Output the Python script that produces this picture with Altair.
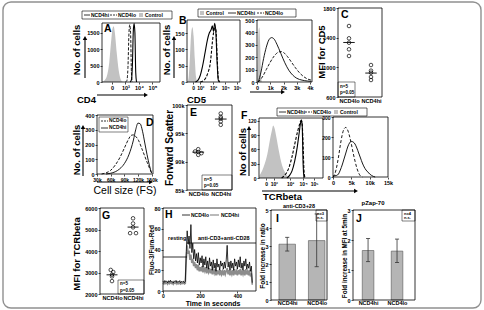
import json
import altair as alt
import pandas as pd

W, H = 484, 310
FONT = "Liberation Sans"
CTRL = "#c2c2c2"
HI_GRAY = "#8c8c8c"
BAR = "#b5b5b5"
DASH = [3, 1.6]

# ---------------- data ----------------
# A: CD4 histograms (x in decade units of the biexponential display)
A_ticks = [0, 1, 2, 3]
A_tick_labels = ["0", "10³", "10⁴", "10⁵"]
A_ctrl_x = [-0.7, -0.6, -0.4, -0.2, -0.05, 0.05, 0.12, 0.2, 0.35, 0.5, 0.65, 0.8, 1.0]
A_ctrl_y = [0, 30, 150, 600, 1300, 1650, 1700, 1550, 900, 350, 80, 10, 0]
A_lo_x = [1.0, 1.1, 1.18, 1.26, 1.32, 1.38, 1.44, 1.5]
A_lo_y = [0, 40, 400, 1500, 1750, 1500, 300, 0]
A_hi_x = [1.35, 1.45, 1.52, 1.58, 1.64, 1.7, 1.76, 1.82]
A_hi_y = [0, 80, 600, 1550, 1780, 1500, 300, 0]

# B: CD5, log display (left) and linear display (right)
B1_ticks = [0, 0.6, 1.67, 2.67, 3.67]
B1_tick_labels = ["0", "10²", "10³", "10⁴", "10⁵"]
B1_ctrl_x = [-0.45, -0.35, -0.25, -0.15, -0.05, 0.05, 0.15, 0.25, 0.35]
B1_ctrl_y = [0, 20, 80, 150, 168, 140, 70, 15, 0]
B1_hi_x = [0.2, 0.4, 0.6, 0.8, 1.0, 1.2, 1.35, 1.5, 1.6, 1.7, 1.8, 1.9, 2.0, 2.1, 2.2]
B1_hi_y = [0, 5, 20, 50, 90, 130, 150, 160, 172, 155, 180, 150, 60, 5, 0]
B1_lo_x = [0.6, 0.9, 1.1, 1.25, 1.4, 1.5, 1.6, 1.7, 1.8, 1.9, 2.0, 2.1, 2.2]
B1_lo_y = [0, 5, 15, 30, 50, 80, 120, 150, 165, 160, 80, 10, 0]
B2_ctrl_x = [0, 60, 120, 180, 240, 300, 360]
B2_ctrl_y = [0, 200, 420, 440, 300, 80, 0]
B2_hi_x = [100, 300, 500, 700, 900, 1100, 1300, 1500, 1800, 2100, 2400, 2700, 3000, 3400, 3800, 4100]
B2_hi_y = [0, 80, 190, 280, 340, 358, 345, 305, 230, 155, 95, 55, 30, 15, 8, 5]
B2_lo_x = [100, 400, 700, 1000, 1300, 1600, 1800, 2000, 2300, 2600, 2900, 3200, 3500, 3800, 4100]
B2_lo_y = [0, 40, 100, 160, 210, 240, 245, 238, 205, 160, 115, 75, 45, 25, 15]

# C: MFI for CD5 (group 1 = NCD4lo, 2 = NCD4hi)
C_group = [1, 1, 1, 1, 1, 2, 2, 2, 2, 2]
C_xpos = [1, 1, 1, 1, 1, 2, 2, 2, 2, 2]
C_mfi = [1557, 1391, 1332, 1243, 1153, 1031, 955, 928, 870, 829]

# D: cell size (forward scatter) histograms
D_hi_x = [50e3, 60e3, 70e3, 80e3, 90e3, 100e3, 110e3, 115e3, 120e3, 125e3, 130e3, 135e3, 140e3, 145e3, 150e3]
D_hi_y = [0, 5, 15, 35, 70, 130, 230, 300, 345, 340, 290, 210, 130, 60, 5]
D_lo_x = [40e3, 50e3, 60e3, 70e3, 80e3, 90e3, 100e3, 105e3, 110e3, 115e3, 120e3, 130e3, 140e3, 150e3]
D_lo_y = [0, 8, 25, 60, 110, 175, 240, 262, 265, 255, 235, 160, 80, 5]

# E: forward scatter per mouse
E_group = [1, 1, 1, 1, 1, 2, 2, 2, 2, 2]
E_xpos = [1.0, 0.86, 1.0, 1.14, 1.0, 2.0, 2.0, 2.0, 2.0, 2.0]
E_fs = [92200, 91800, 91700, 91500, 91200, 98500, 97900, 97600, 97100, 96500]

# F: TCRbeta, log display (left) and linear display (right)
F1_ticks = [0, 0.6, 1.85, 2.85, 3.7]
F1_tick_labels = ["0", "10²", "10³", "10⁴", "10⁵"]
F1_ctrl_x = [-0.5, -0.3, -0.1, 0.1, 0.3, 0.45, 0.55, 0.65, 0.8, 1.0, 1.2, 1.4, 1.6, 1.85]
F1_ctrl_y = [5, 15, 30, 50, 80, 100, 110, 105, 85, 55, 30, 15, 5, 0]
F1_hi_x = [1.6, 1.8, 2.0, 2.2, 2.4, 2.55, 2.65, 2.72, 2.78, 2.85, 2.92]
F1_hi_y = [0, 5, 15, 35, 65, 95, 115, 122, 110, 30, 0]
F1_lo_x = [1.2, 1.4, 1.6, 1.8, 2.0, 2.2, 2.4, 2.55, 2.68, 2.76, 2.84, 2.92, 3.0]
F1_lo_y = [0, 5, 12, 25, 45, 70, 95, 110, 120, 118, 80, 15, 0]
F2_lo_x = [0, 500, 1000, 1500, 2000, 2500, 3000, 3500, 4000, 4500, 5000, 5500, 6000, 6500, 7000, 7500, 8000]
F2_lo_y = [0, 15, 50, 100, 160, 210, 240, 248, 235, 205, 165, 120, 80, 45, 20, 5, 0]
F2_hi_x = [0, 1000, 1500, 2000, 2500, 3000, 3500, 4000, 4500, 5000, 5500, 6000, 6500, 7000,
           7500, 8000, 8500, 9000, 9500, 10000, 10500, 11000, 11500]
F2_hi_y = [5, 8, 15, 35, 60, 90, 120, 150, 170, 178, 175, 165, 145, 120, 95, 70, 50, 35, 25, 15, 8, 3, 0]

# G: MFI for TCRbeta
G_group = [1, 1, 1, 1, 1, 2, 2, 2, 2, 2]
G_xpos = [0.94, 1.06, 1.0, 1.0, 1.0, 2.0, 2.0, 2.0, 1.86, 2.14]
G_mfi = [3120, 3020, 2900, 2820, 2600, 5520, 5280, 5100, 4830, 4830]

# H: calcium flux ratio, sampled every 5 s
H_time = list(range(0, 485, 5))
H_lo = [9.5, 8.2, 10.1, 8.8, 9.6, 7.9, 9.9, 8.5, 10.4, 8.7, 9.2, 7.6, 9.8, 8.9, 10.2, 8.1, 9.4,
        8.6, 10.0, 7.8, 9.3, 8.4, 9.7, 8.0, 9.1,
        38, 58, 45, 53, 41, 64, 37, 46, 31, 40, 29, 36, 27, 37, 25, 32, 27, 34, 23, 31,
        25, 33, 22, 29, 21, 32, 24, 28, 20, 30, 22, 27, 19, 31, 23, 26, 20, 29, 24, 27,
        21, 28, 22, 30, 44, 23, 28, 20, 29, 22, 27, 20, 31, 24, 28, 21, 30, 23, 33, 22,
        27, 20, 29, 24, 31, 21, 26, 22, 28, 19, 24, 8]
H_hi = [7.8, 6.9, 8.4, 7.2, 8.0, 6.6, 8.3, 7.1, 8.6, 7.3, 7.7, 6.5, 8.1, 7.4, 8.5, 6.8, 7.9,
        7.0, 8.2, 6.7, 7.6, 7.2, 8.0, 6.9, 7.5,
        30, 44, 36, 39, 30, 35, 27, 31, 24, 28, 22, 26, 20, 25, 19, 23, 19, 24, 18, 22,
        19, 23, 17, 21, 18, 22, 17, 21, 16, 20, 17, 21, 15, 20, 17, 19, 15, 20, 16, 19,
        15, 20, 16, 19, 22, 16, 20, 15, 19, 16, 20, 15, 21, 16, 19, 15, 20, 16, 21, 15,
        19, 16, 20, 15, 21, 16, 19, 15, 20, 14, 17, 6]

# I / J: fold increases (mean with error range), group 1 = NCD4hi, 2 = NCD4lo
I_group = [1, 2]
I_fold = [3.1, 3.3]
I_low = [2.72, 1.85]
I_high = [3.48, 4.78]
J_group = [1, 2]
J_fold = [1.65, 1.63]
J_low = [1.28, 1.25]
J_high = [2.05, 2.03]


# ---------------- helpers ----------------
def one():
    return pd.DataFrame({"k": [0]})


def box(x0, x1, y0, y1, sw=0.8, color="black", radius=0):
    props = dict(filled=False, stroke=color, strokeWidth=sw)
    if radius:
        props["cornerRadius"] = radius
    return alt.Chart(one()).mark_rect(**props).encode(
        x=alt.value(x0), x2=alt.value(x1), y=alt.value(y0), y2=alt.value(y1))


def seg(x0, y0, x1, y1, color="black", sw=0.8, dash=None):
    props = dict(color=color, strokeWidth=sw)
    if dash:
        props["strokeDash"] = dash
    return alt.Chart(one()).mark_rule(**props).encode(
        x=alt.value(x0), y=alt.value(y0), x2=alt.value(x1), y2=alt.value(y1))


def label(s, x, y, size=5.5, align="left", baseline="middle", angle=0, weight="bold"):
    props = dict(text=s, font=FONT, fontSize=size, fontWeight=weight, align=align,
                 baseline=baseline, color="black")
    if angle:
        props["angle"] = angle
    return alt.Chart(one()).mark_text(**props).encode(x=alt.value(x), y=alt.value(y))


def arrow(x0, y0, x1, y1, sw=1.1):
    shape = "triangle-right" if y0 == y1 else "triangle-up"
    head = alt.Chart(one()).mark_point(shape=shape, filled=True, color="black", size=20,
                                       opacity=1).encode(x=alt.value(x1), y=alt.value(y1))
    return [seg(x0, y0, x1, y1, sw=sw), head]


def key_square(x, y, s=5):
    return alt.Chart(one()).mark_rect(color=CTRL).encode(
        x=alt.value(x), x2=alt.value(x + s), y=alt.value(y - s / 2), y2=alt.value(y + s / 2))


def lab_expr(values, labels):
    return "{}[indexof({}, datum.value)]".format(
        json.dumps(labels, ensure_ascii=False), json.dumps(values))


AXIS_STYLE = dict(title=None, grid=False, domain=False, tickColor="black", tickWidth=0.7,
                  labelFont=FONT, labelFontWeight="bold", labelColor="black",
                  labelOverlap=False, labelFlush=False, labelBound=False)


def xax(bottom, values, labels, size=5.5, tick=2, pad=1):
    return alt.Axis(orient="bottom", offset=bottom - H, values=values,
                    labelExpr=lab_expr(values, labels), ticks=tick > 0, tickSize=tick,
                    labelFontSize=size, labelPadding=pad, **AXIS_STYLE)


def yax(left, values, labels, size=5.5, tick=2, pad=1):
    return alt.Axis(orient="left", offset=-left, values=values,
                    labelExpr=lab_expr(values, labels), ticks=True, tickSize=tick,
                    labelFontSize=size, labelPadding=pad, **AXIS_STYLE)


class Panel:
    def __init__(self, xdom, xpx, ydom, ypx, xaxis, yaxis):
        self.sx = alt.Scale(domain=xdom, range=xpx, nice=False, zero=False)
        self.sy = alt.Scale(domain=ydom, range=ypx, nice=False, zero=False)
        self.ax, self.ay = xaxis, yaxis

    def X(self, f="x"):
        return alt.X(f"{f}:Q", scale=self.sx, axis=self.ax)

    def Y(self, f="y"):
        return alt.Y(f"{f}:Q", scale=self.sy, axis=self.ay)

    def curve(self, xs, ys, color="black", sw=0.9, dash=None, interp="monotone"):
        props = dict(color=color, strokeWidth=sw, interpolate=interp)
        if dash:
            props["strokeDash"] = dash
        return alt.Chart(pd.DataFrame({"x": xs, "y": ys})).mark_line(**props).encode(
            x=self.X(), y=self.Y())

    def fill(self, xs, ys):
        return alt.Chart(pd.DataFrame({"x": xs, "y": ys})).mark_area(
            color=CTRL, interpolate="monotone").encode(x=self.X(), y=self.Y(), y2=alt.datum(0))

    def dots(self, groups, xs, ys, half=0.26):
        base = alt.Chart(pd.DataFrame({"g": groups, "x": xs, "y": ys}))
        pts = base.mark_point(shape="circle", filled=False, color="black", strokeWidth=0.7,
                              size=13, opacity=1).encode(x=self.X(), y=self.Y())
        mean = base.transform_aggregate(m="mean(y)", groupby=["g"]).transform_calculate(
            xa=f"datum.g - {half}", xb=f"datum.g + {half}").mark_rule(
            color="black", strokeWidth=0.9).encode(x=self.X("xa"), x2="xb", y=self.Y("m"))
        return [pts, mean]

    def bars(self, groups, vals, lo, hi, half):
        base = alt.Chart(pd.DataFrame({"g": groups, "v": vals, "lo": lo, "hi": hi})).transform_calculate(
            xa=f"datum.g - {half}", xb=f"datum.g + {half}", ca="datum.g - 0.07", cb="datum.g + 0.07")
        bar = base.mark_rect(color=BAR, stroke="#555555", strokeWidth=0.6).encode(
            x=self.X("xa"), x2="xb", y=self.Y("v"), y2=alt.datum(0))
        err = base.mark_rule(color="#333333", strokeWidth=0.8).encode(
            x=self.X("g"), y=self.Y("lo"), y2="hi")
        cap_lo = base.mark_rule(color="#333333", strokeWidth=0.8).encode(
            x=self.X("ca"), x2="cb", y=self.Y("lo"))
        cap_hi = base.mark_rule(color="#333333", strokeWidth=0.8).encode(
            x=self.X("ca"), x2="cb", y=self.Y("hi"))
        return [bar, err, cap_lo, cap_hi]


def ints(vals):
    return [str(v) for v in vals]


def kfmt(vals):
    return ["0" if v == 0 else f"{v // 1000}k" for v in vals]


CAT = 5.6  # size of the group names under the dot plots

layers = [box(3, 481, 2, 308, sw=1.4, color="#909090", radius=8)]

# ---------------- A ----------------
pA = Panel([-0.74, 3.56], [102, 160], [0, 1800], [82, 23],
           xax(82, A_ticks, A_tick_labels), yax(102, [0, 500, 1000, 1500], ints([0, 500, 1000, 1500])))
layers.append(alt.layer(pA.fill(A_ctrl_x, A_ctrl_y), pA.curve(A_lo_x, A_lo_y, dash=DASH),
                        pA.curve(A_hi_x, A_hi_y, sw=1.1)))
layers += [box(102, 160, 23, 82), label("A", 104, 24, 10.5, baseline="top"),
           label("No. of cells", 77, 50, 9.5, align="center", angle=270),
           label("CD4", 77, 103, 9.5, baseline="alphabetic")]
layers += arrow(85, 78, 85, 38) + arrow(97, 95, 146, 95)
layers += [box(82, 172, 11, 19, sw=0.6), seg(84, 15, 90, 15), label("NCD4hi", 91, 15, 5),
           seg(110, 15, 117, 15, dash=[2, 1]), label("NCD4lo", 118, 15, 5),
           key_square(139, 15, 4), label("Control", 145, 15, 5)]

# ---------------- B ----------------
pB1 = Panel([-0.5, 3.9], [187, 240], [0, 190], [82, 20],
            xax(82, B1_ticks, B1_tick_labels, size=5), yax(187, [0, 50, 100, 150], ints([0, 50, 100, 150])))
layers.append(alt.layer(pB1.fill(B1_ctrl_x, B1_ctrl_y), pB1.curve(B1_lo_x, B1_lo_y, sw=1.1, dash=DASH),
                        pB1.curve(B1_hi_x, B1_hi_y, sw=1.1)))
B2_yt = [0, 100, 200, 300, 400, 500]
B2_xt = [0, 1000, 2000, 3000, 4000]
pB2 = Panel([0, 4150], [257, 312], [0, 500], [82, 20],
            xax(82, B2_xt, kfmt(B2_xt)), yax(257, B2_yt, ints(B2_yt)))
layers.append(alt.layer(pB2.fill(B2_ctrl_x, B2_ctrl_y), pB2.curve(B2_lo_x, B2_lo_y, dash=DASH),
                        pB2.curve(B2_hi_x, B2_hi_y)))
layers += [box(187, 240, 20, 82), box(257, 312, 20, 82), label("B", 179, 16, 10.5, baseline="top"),
           label("No. of cells", 167, 50, 9.5, align="center", angle=270),
           label("CD5", 187, 103, 9.5, baseline="alphabetic")]
layers += arrow(174, 78, 174, 38) + arrow(250, 92, 283, 92)
layers += [box(198, 296, 9, 17, sw=0.6), key_square(200, 13, 4), label("Control", 206, 13, 5),
           seg(228, 13, 236, 13), label("NCD4hi", 237, 13, 5),
           seg(257, 13, 264, 13, dash=[2, 1]), label("NCD4lo", 265, 13, 5)]

# ---------------- C ----------------
C_yt = [600, 1000, 1400, 1800]
pC = Panel([0.5, 2.5], [338, 382], [600, 1800], [97, 8],
           xax(97, [1, 2], ["NCD4lo", "NCD4hi"], size=CAT, tick=0, pad=1.5), yax(338, C_yt, ints(C_yt)))
layers.append(alt.layer(*pC.dots(C_group, C_xpos, C_mfi)))
layers += [box(338, 382, 8, 97), label("C", 341, 10, 10.5, baseline="top"),
           label("MFI for CD5", 322, 52, 9.5, align="center", angle=270),
           box(338, 355, 82, 97, sw=0.5), label("n=5", 340, 86.5, 4.5), label("p=0.05", 340, 93, 4.5)]

# ---------------- D ----------------
D_xt = [30000, 60000, 90000, 120000, 150000]
D_yt = [0, 100, 200, 300, 400]
pD = Panel([30000, 153000], [97, 153], [0, 400], [174, 115],
           xax(174, D_xt, kfmt(D_xt), size=5), yax(97, D_yt, ints(D_yt)))
layers.append(alt.layer(pD.curve(D_lo_x, D_lo_y, dash=DASH), pD.curve(D_hi_x, D_hi_y)))
layers += [box(97, 153, 115, 174), label("D", 146, 118, 10.5, baseline="top"),
           box(99, 128, 117, 132, sw=0.5), seg(101, 121, 108, 121, dash=[2, 1]), label("NCD4lo", 109, 121, 4.8),
           seg(101, 128, 108, 128), label("NCD4hi", 109, 128, 4.8),
           label("No. of cells", 77, 150, 9.5, align="center", angle=270),
           label("Cell size (FS)", 125, 194, 10.5, align="center", baseline="alphabetic", weight="normal")]
layers += arrow(83, 176, 83, 127) + arrow(97, 182, 151, 182)

# ---------------- E ----------------
E_yt = [85000, 90000, 95000, 100000]
pE = Panel([0.5, 2.5], [187, 232], [85000, 100000], [190, 105],
           xax(190, [1, 2], ["NCD4lo", "NCD4hi"], size=CAT, tick=0, pad=1.5), yax(187, E_yt, kfmt(E_yt)))
layers.append(alt.layer(*pE.dots(E_group, E_xpos, E_fs)))
layers += [box(187, 232, 105, 190), label("E", 190, 108, 10.5, baseline="top"),
           label("Forward Scatter", 170, 148, 10, align="center", angle=270),
           box(202, 232, 175, 190, sw=0.5), label("n=5", 204, 179.5, 4.5), label("p=0.05", 204, 186, 4.5)]

# ---------------- F ----------------
F1_yt = [0, 30, 60, 90, 120]
pF1 = Panel([-0.54, 4.38], [259, 323], [0, 126], [178, 118],
            xax(178, F1_ticks, F1_tick_labels, size=5), yax(259, F1_yt, ints(F1_yt), size=5))
layers.append(alt.layer(pF1.fill(F1_ctrl_x, F1_ctrl_y), pF1.curve(F1_lo_x, F1_lo_y, sw=1.1, dash=DASH),
                        pF1.curve(F1_hi_x, F1_hi_y, sw=1.1)))
F2_xt = [0, 5000, 10000, 15000]
F2_yt = [0, 100, 200, 300]
pF2 = Panel([0, 15000], [333, 388], [0, 300], [177, 117],
            xax(177, F2_xt, kfmt(F2_xt)), yax(333, F2_yt, ints(F2_yt), size=5))
layers.append(alt.layer(pF2.curve(F2_lo_x, F2_lo_y, dash=[3, 2]), pF2.curve(F2_hi_x, F2_hi_y)))
layers += [box(259, 323, 118, 178), box(333, 388, 117, 177), label("F", 241, 111, 10.5, baseline="top"),
           label("No of cells", 243, 152, 9.5, align="center", angle=270),
           label("TCRbeta", 263, 200, 9.5, baseline="alphabetic"),
           box(277, 367, 108, 116, sw=0.6), seg(279, 112, 286, 112), label("NCD4hi", 287, 112, 5),
           seg(305, 112, 312, 112, dash=[2, 1]), label("NCD4lo", 313, 112, 5),
           key_square(334, 112, 4), label("Control", 340, 112, 5)]
layers += arrow(249, 176, 249, 128) + arrow(262, 191, 356, 191)

# ---------------- G ----------------
G_yt = [2000, 3000, 4000, 5000, 6000]
pG = Panel([0.43, 2.52], [100, 144], [2000, 6000], [294, 208],
           xax(294, [1, 2], ["NCD4lo", "NCD4hi"], size=CAT, tick=0, pad=1.5), yax(100, G_yt, ints(G_yt)))
layers.append(alt.layer(*pG.dots(G_group, G_xpos, G_mfi)))
layers += [box(100, 144, 208, 294), label("G", 102, 211, 10.5, baseline="top"),
           label("MFI for TCRbeta", 77, 254, 9.5, align="center", angle=270),
           box(118, 144, 280, 294, sw=0.5), label("n=5", 120, 284, 4.5), label("p=0.05", 120, 290.5, 4.5)]

# ---------------- H ----------------
H_yt = [0, 20, 40, 60, 80]
H_xt = [0, 200, 400]
pH = Panel([0, 500], [163, 256], [0, 80], [291, 208],
           xax(291, H_xt, ints(H_xt), size=5, pad=0.5), yax(163, H_yt, ints(H_yt)))
layers.append(alt.layer(pH.curve(H_time, H_hi, color=HI_GRAY, sw=1.6, interp="linear"),
                        pH.curve(H_time, H_lo, color="black", sw=0.8, interp="linear")))
layers += [box(163, 256, 208, 291), label("H", 165, 210, 10.5, baseline="top"),
           seg(182, 215, 190, 215), label("NCD4lo", 191, 215, 5),
           seg(210, 215, 219, 215, color=HI_GRAY, sw=1.2), label("NCD4hi", 221, 215, 5),
           label("resting", 168, 238, 5.5), label("anti-CD3+anti-CD28", 198, 238, 5.5),
           seg(163, 257, 187, 257), seg(187, 243, 256, 243),
           label("Fluo-3/Fura-Red", 152, 250, 6.5, align="center", angle=270),
           label("Time in seconds", 213, 305.5, 7, align="center", baseline="alphabetic")]

# ---------------- I ----------------
I_yt = [0, 1, 2, 3, 4, 5]
pI = Panel([0.45, 2.35], [271, 327], [0, 5], [300, 210],
           xax(300, [1, 2], ["NCD4hi", "NCD4lo"], size=5.5, tick=0, pad=0.5), yax(271, I_yt, ints(I_yt)))
layers.append(alt.layer(*pI.bars(I_group, I_fold, I_low, I_high, 0.28)))
layers += [box(271, 327, 210, 300), label("I", 276, 214, 10.5, baseline="top"),
           label("anti-CD3+28", 299, 207.5, 5.5, align="center", baseline="alphabetic"),
           box(316, 327, 210, 221, sw=0.5), label("n=3", 317, 213.5, 4), label("n.s.", 317, 218, 4),
           label("Fold increase in ratio", 263, 256, 6.5, align="center", angle=270)]

# ---------------- J ----------------
J_yt = [0, 1, 2, 3]
pJ = Panel([0.48, 2.62], [353, 415], [0, 3], [300, 210],
           xax(300, [1, 2], ["NCD4hi", "NCD4lo"], size=5.5, tick=0, pad=0.5), yax(353, J_yt, ints(J_yt)))
layers.append(alt.layer(*pJ.bars(J_group, J_fold, J_low, J_high, 0.2)))
layers += [box(353, 415, 210, 300), label("J", 356, 214, 10.5, baseline="top"),
           label("pZap-70", 373, 205, 6, align="center", baseline="alphabetic"),
           box(402, 415, 210, 221, sw=0.5), label("n=4", 404, 213.5, 4), label("n.s.", 404, 218, 4),
           label("Fold increase in MFI at 5min", 345, 256, 6.3, align="center", angle=270)]

chart = alt.layer(*layers).resolve_scale(x="independent", y="independent").properties(
    width=W, height=H, padding=0, autosize="none", background="white"
).configure_view(stroke=None)

chart.save("out.html", embed_options={"renderer": "svg", "actions": False})
